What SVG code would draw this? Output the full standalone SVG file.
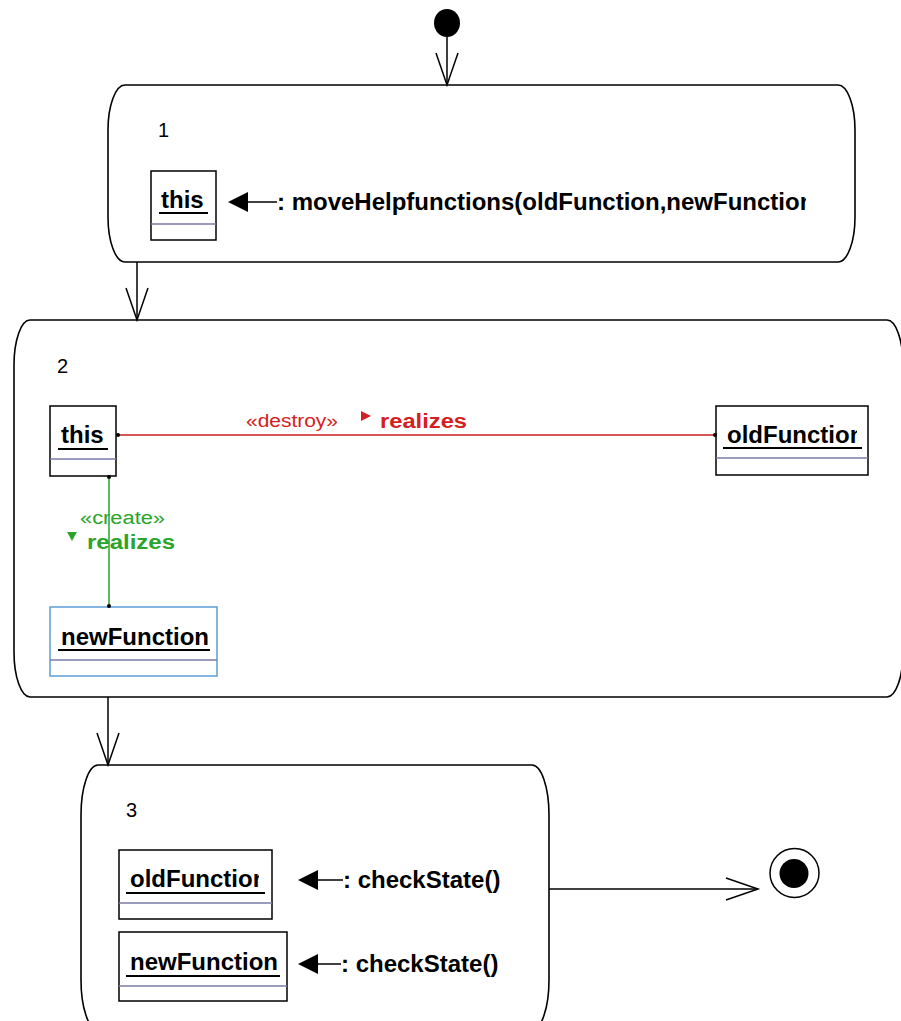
<svg xmlns="http://www.w3.org/2000/svg" width="901" height="1021" viewBox="0 0 901 1021">
<style>
.state{fill:#fff;stroke:#000;stroke-width:1.6}
.obj{fill:#fff;stroke:#000;stroke-width:1.5}
.objb{fill:#fff;stroke:#5a9fd8;stroke-width:1.5}
.sep{stroke:#7a7aa8;stroke-width:1.5}
.ul{stroke:#000;stroke-width:2}
.t{font-family:"Liberation Sans",Arial,sans-serif;font-weight:bold;font-size:24px;fill:#000}
.num{font-family:"Liberation Sans",Arial,sans-serif;font-size:20px;fill:#000}
.tr{stroke:#000;stroke-width:1.5;fill:none}
.msg{stroke:#000;stroke-width:1.5}
.red{fill:#d42020}
.grn{fill:#2aa52a}
.st{font-family:"Liberation Sans",Arial,sans-serif;font-size:18px}
.rz{font-family:"Liberation Sans",Arial,sans-serif;font-size:20px;font-weight:bold}
</style>
<defs>
<marker id="open" markerUnits="userSpaceOnUse" viewBox="-34 -14 36 28" markerWidth="36" markerHeight="28" refX="0" refY="0" orient="auto" overflow="visible">
<path d="M-32,-11 L0,0 L-32,11" fill="none" stroke="#000" stroke-width="1.5"/>
</marker>
<clipPath id="c1"><rect x="100" y="150" width="706" height="80"/></clipPath>
<clipPath id="c2"><rect x="716" y="406" width="141" height="60"/></clipPath>
<clipPath id="c3"><rect x="119" y="850" width="140" height="60"/></clipPath>
</defs>

<g id="initial">
<ellipse cx="447" cy="23" rx="13" ry="14" fill="#000"/>
</g>

<g id="state1">
<rect class="state" x="108" y="85" width="747" height="177" rx="17" ry="45"/>
<text class="num" x="158" y="137">1</text>
<g id="s1-this">
<rect class="obj" x="151" y="171" width="65" height="69"/>
<text class="t" x="161" y="208">this</text>
<line class="ul" x1="159" y1="213" x2="208" y2="213"/>
<line class="sep" x1="151" y1="224" x2="216" y2="224"/>
</g>
<polygon points="228,202 248,192 248,212" fill="#000"/>
<line class="msg" x1="247" y1="202" x2="277" y2="202"/>
<text class="t" x="277" y="210" clip-path="url(#c1)">: moveHelpfunctions(oldFunction,newFunction)</text>
</g>

<g id="state2">
<rect class="state" x="14" y="320" width="889" height="377" rx="16" ry="45"/>
<text class="num" x="57" y="373">2</text>
<g id="s2-this">
<rect class="obj" x="50" y="406" width="66" height="70"/>
<text class="t" x="61" y="443">this</text>
<line class="ul" x1="58" y1="449" x2="108" y2="449"/>
<line class="sep" x1="50" y1="459" x2="116" y2="459"/>
</g>
<g id="s2-oldFunction">
<rect class="obj" x="716" y="406" width="152" height="69"/>
<text class="t" x="727" y="443" clip-path="url(#c2)">oldFunction</text>
<line class="ul" x1="723" y1="448" x2="862" y2="448"/>
<line class="sep" x1="716" y1="458" x2="868" y2="458"/>
</g>
<g id="s2-newFunction">
<rect class="objb" x="50" y="607" width="167" height="69"/>
<text class="t" x="61" y="645">newFunction</text>
<line class="ul" x1="58" y1="650" x2="210" y2="650"/>
<line class="sep" x1="50" y1="660" x2="217" y2="660"/>
</g>
</g>

<g id="state3">
<rect class="state" x="81" y="765" width="468" height="265" rx="17" ry="50"/>
<text class="num" x="126" y="817">3</text>
<g id="s3-oldFunction">
<rect class="obj" x="119" y="850" width="153" height="69"/>
<text class="t" x="130" y="887" clip-path="url(#c3)">oldFunction</text>
<line class="ul" x1="126" y1="893" x2="265" y2="893"/>
<line class="sep" x1="119" y1="903" x2="272" y2="903"/>
</g>
<polygon points="298,880 318,870 318,890" fill="#000"/>
<line class="msg" x1="317" y1="880" x2="343" y2="880"/>
<text class="t" x="343" y="888">: checkState()</text>
<g id="s3-newFunction">
<rect class="obj" x="119" y="932" width="168" height="69"/>
<text class="t" x="130" y="970">newFunction</text>
<line class="ul" x1="126" y1="976" x2="280" y2="976"/>
<line class="sep" x1="119" y1="986" x2="287" y2="986"/>
</g>
<polygon points="298,964 318,954 318,974" fill="#000"/>
<line class="msg" x1="317" y1="964" x2="341" y2="964"/>
<text class="t" x="341" y="972">: checkState()</text>
</g>

<g id="final">
<circle cx="794.5" cy="873" r="24.5" fill="#fff" stroke="#000" stroke-width="1.5"/>
<circle cx="794" cy="873.5" r="14.5" fill="#000"/>
</g>

<g id="connectors">
<line class="tr" x1="447" y1="37" x2="447" y2="85" marker-end="url(#open)"/>
<line class="tr" x1="137" y1="262" x2="137" y2="320" marker-end="url(#open)"/>
<line class="tr" x1="108" y1="697" x2="108" y2="765" marker-end="url(#open)"/>
<line class="tr" x1="549" y1="889" x2="758" y2="889" marker-end="url(#open)"/>
<line x1="117" y1="435" x2="716" y2="435" stroke="#c81e1e" stroke-width="1.5"/>
<circle cx="118" cy="435" r="2" fill="#000"/>
<circle cx="715" cy="435" r="2" fill="#000"/>
<text class="st red" x="246" y="427" textLength="92" lengthAdjust="spacingAndGlyphs">«destroy»</text>
<polygon class="red" points="361,411 371,416 361,421"/>
<text class="rz red" x="380" y="428" textLength="87" lengthAdjust="spacingAndGlyphs">realizes</text>
<line x1="109" y1="476" x2="109" y2="607" stroke="#2aa52a" stroke-width="1.5"/>
<circle cx="109" cy="477" r="2" fill="#000"/>
<circle cx="109" cy="606" r="2" fill="#000"/>
<text class="st grn" x="80" y="524" textLength="85" lengthAdjust="spacingAndGlyphs">«create»</text>
<polygon class="grn" points="67,532 77,532 72,541"/>
<text class="rz grn" x="87" y="549" textLength="88" lengthAdjust="spacingAndGlyphs">realizes</text>
</g>
</svg>
